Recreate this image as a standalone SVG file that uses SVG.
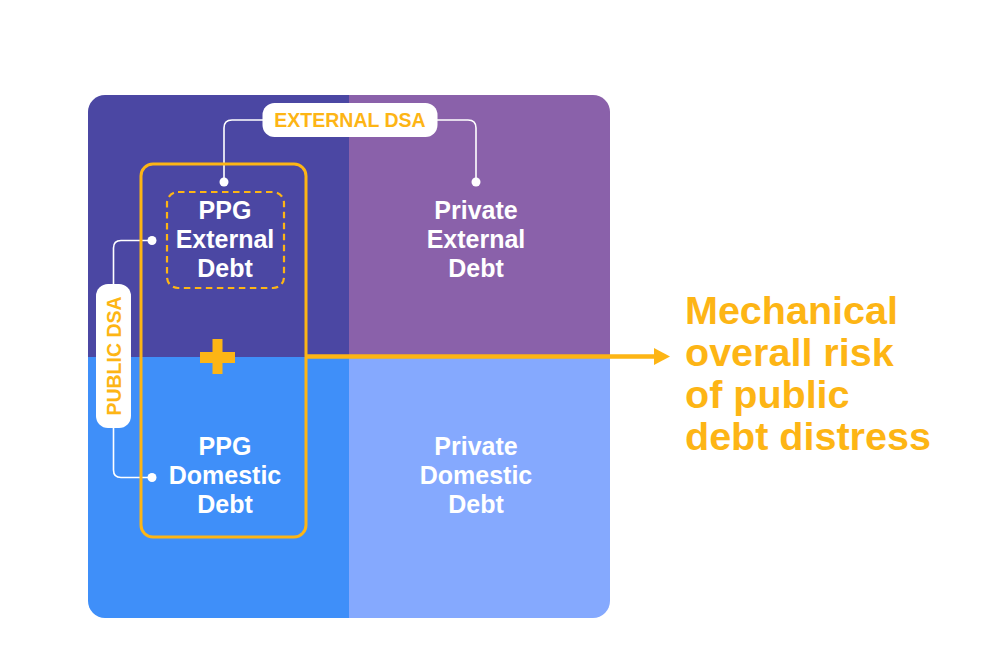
<svg xmlns="http://www.w3.org/2000/svg" width="1000" height="661" viewBox="0 0 1000 661">
<defs>
<style>
.q{font-family:"Liberation Sans",Arial,sans-serif;font-weight:bold;font-size:25px;fill:#ffffff;text-anchor:middle}
.lbl{font-family:"Liberation Sans",Arial,sans-serif;font-weight:bold;font-size:19.5px;fill:#FDB515;text-anchor:middle}
.con{fill:none;stroke:#ffffff;stroke-width:1.6}
.dot{fill:#ffffff}
.big{font-family:"Liberation Sans",Arial,sans-serif;font-weight:bold;font-size:39.5px;fill:#FDB515}
</style>
<clipPath id="clip"><rect x="88" y="95" width="522" height="523" rx="17"/></clipPath>
</defs>
<rect width="1000" height="661" fill="#ffffff"/>
<g id="quadrants" clip-path="url(#clip)">
<rect x="88" y="95" width="261" height="262" fill="#4B47A3"/>
<rect x="349" y="95" width="261" height="262" fill="#8A61AA"/>
<rect x="88" y="357" width="261" height="261" fill="#3F8FF9"/>
<rect x="349" y="357" width="261" height="261" fill="#85A9FE"/>
</g>
<g id="connectors">
<path class="con" d="M263 120 H232 Q224 120 224 128 V182"/>
<circle class="dot" cx="224" cy="182" r="4.5"/>
<path class="con" d="M437 120 H468 Q476 120 476 128 V182"/>
<circle class="dot" cx="476" cy="182" r="4.5"/>
<path class="con" d="M113.5 285 V248 Q113.5 240.5 121 240.5 H152"/>
<circle class="dot" cx="152" cy="240.5" r="4.5"/>
<path class="con" d="M113.5 427 V470 Q113.5 477.5 121 477.5 H152"/>
<circle class="dot" cx="152" cy="477.5" r="4.5"/>
<path d="M306 356.5 H658" stroke="#FDB515" stroke-width="4.5" fill="none"/>
<polygon points="654,348 670,356.5 654,365" fill="#FDB515"/>
</g>
<g id="ppg-box">
<rect x="141" y="164" width="165" height="373" rx="12" fill="none" stroke="#FDB515" stroke-width="3"/>
</g>
<g id="ppg-external">
<rect x="167" y="192" width="117" height="96" rx="11" fill="none" stroke="#FDB515" stroke-width="2.2" stroke-dasharray="6.5 4.5"/>
<text class="q" x="225" y="219">PPG</text>
<text class="q" x="225" y="248">External</text>
<text class="q" x="225" y="277">Debt</text>
</g>
<g id="private-external">
<text class="q" x="476" y="219">Private</text>
<text class="q" x="476" y="248">External</text>
<text class="q" x="476" y="277">Debt</text>
</g>
<g id="ppg-domestic">
<text class="q" x="225" y="455">PPG</text>
<text class="q" x="225" y="484">Domestic</text>
<text class="q" x="225" y="513">Debt</text>
</g>
<g id="private-domestic">
<text class="q" x="476" y="455" fill="#F3F6FF">Private</text>
<text class="q" x="476" y="484">Domestic</text>
<text class="q" x="476" y="513">Debt</text>
</g>
<g id="plus">
<rect x="200" y="352" width="35" height="11" fill="#FDB515"/>
<rect x="212.5" y="339" width="10" height="35" fill="#FDB515"/>
</g>
<g id="external-dsa">
<rect x="262.5" y="103" width="175" height="34" rx="12" fill="#ffffff"/>
<text class="lbl" x="350" y="127">EXTERNAL DSA</text>
</g>
<g id="public-dsa">
<rect x="96" y="284" width="35" height="144" rx="12" fill="#ffffff"/>
<text class="lbl" transform="translate(120.5 356) rotate(-90)" x="0" y="0">PUBLIC DSA</text>
</g>
<g id="result">
<text class="big" x="685" y="324">Mechanical</text>
<text class="big" x="685" y="366">overall risk</text>
<text class="big" x="685" y="408">of public</text>
<text class="big" x="685" y="450">debt distress</text>
</g>
</svg>
